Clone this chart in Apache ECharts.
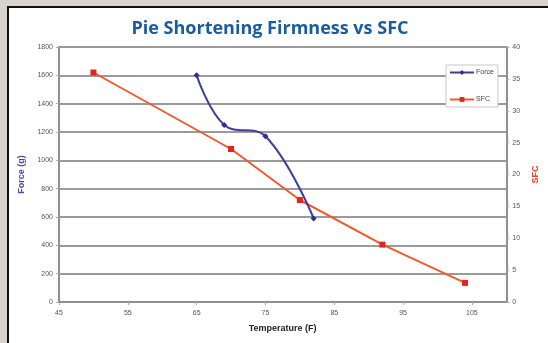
<!DOCTYPE html>
<html>
<head>
<meta charset="utf-8">
<style>
  html, body { margin: 0; padding: 0; background: #d9d3cd; }
  #chart { width: 548px; height: 343px; }
</style>
<script src="https://cdn.jsdelivr.net/npm/echarts@6/dist/echarts.min.js"></script>
</head>
<body>
<div id="chart"></div>
<script>
// Firmness (force) readings against temperature
const forceTemps = [65, 69, 75, 82];
const forceValues = [1600, 1250, 1170, 590];

// Solid fat content against temperature
const sfcTemps = [50, 70, 80, 92, 104];
const sfcValues = [36, 24, 16, 9, 3];

// Temperature tick labels
const tempTicks = [45, 55, 65, 75, 85, 95, 105];

const chart = echarts.init(document.getElementById('chart'), null, { renderer: 'canvas' });

const axisLineStyle = { color: '#8f8f8f', width: 2 };
const tickLabel = {
  fontSize: 7, color: '#555', fontFamily: 'Liberation Sans',
  formatter: (v) => String(v)
};

chart.setOption({
  backgroundColor: '#d9d3cd',
  animation: false,
  graphic: [{
    type: 'rect',
    z: -100,
    shape: { x: 8, y: 7, width: 560, height: 360 },
    style: { fill: '#ffffff', stroke: '#111111', lineWidth: 2 }
  }],
  title: {
    text: 'Pie Shortening Firmness vs SFC',
    left: 265,
    textAlign: 'center',
    top: 15,
    textStyle: { fontSize: 18, fontWeight: 'bold', color: '#1b5c9c', fontFamily: 'Open Sans' }
  },
  legend: {
    left: 446,
    top: 65,
    orient: 'vertical',
    itemWidth: 24,
    itemHeight: 6,
    itemGap: 20,
    padding: [4, 4, 4, 3],
    backgroundColor: '#ffffff',
    borderColor: '#c8c8c8',
    borderWidth: 1,
    textStyle: { fontSize: 7, color: '#444', fontFamily: 'Liberation Sans', padding: [0, 0, 0, -3] },
    data: ['Force', 'SFC']
  },
  grid: { left: 59, right: 31, top: 47, bottom: 41 },
  xAxis: {
    type: 'value',
    min: 45,
    max: 110,
    name: 'Temperature (F)',
    nameLocation: 'middle',
    nameGap: 22,
    nameTextStyle: { fontSize: 9, fontWeight: 'bold', color: '#222', fontFamily: 'Liberation Sans' },
    axisLine: { show: true, lineStyle: axisLineStyle },
    axisTick: { show: true, length: 3, customValues: tempTicks, lineStyle: { color: '#aaa' } },
    axisLabel: Object.assign({ customValues: tempTicks, margin: 8 }, tickLabel),
    splitLine: { show: false }
  },
  yAxis: [{
    type: 'value',
    min: 0,
    max: 1800,
    interval: 200,
    name: 'Force (g)',
    nameLocation: 'middle',
    nameGap: 33,
    nameRotate: 90,
    nameTextStyle: { fontSize: 9, fontWeight: 'bold', color: '#4b4ba6', fontFamily: 'Liberation Sans' },
    axisLine: { show: true, lineStyle: axisLineStyle },
    axisTick: { show: true, length: 3, lineStyle: { color: '#aaa' } },
    axisLabel: Object.assign({ margin: 6 }, tickLabel),
    splitLine: { show: true, lineStyle: { color: '#9a9a9a', width: 2 } }
  }, {
    type: 'value',
    min: 0,
    max: 40,
    interval: 5,
    name: 'SFC',
    nameLocation: 'middle',
    nameGap: 22,
    nameRotate: 90,
    nameTextStyle: { fontSize: 9, fontWeight: 'bold', color: '#e8452a', fontFamily: 'Liberation Sans' },
    axisLine: { show: true, lineStyle: axisLineStyle },
    axisTick: { show: true, length: 3, lineStyle: { color: '#aaa' } },
    axisLabel: Object.assign({ margin: 6 }, tickLabel),
    splitLine: { show: false }
  }],
  series: [{
    name: 'Force',
    type: 'line',
    yAxisIndex: 0,
    smooth: 0.4,
    data: forceTemps.map((t, i) => [t, forceValues[i]]),
    symbol: 'diamond',
    symbolSize: 6,
    itemStyle: { color: '#2f2f8f' },
    lineStyle: { color: '#3d3d9c', width: 2 },
    z: 3
  }, {
    name: 'SFC',
    type: 'line',
    yAxisIndex: 1,
    data: sfcTemps.map((t, i) => [t, sfcValues[i]]),
    symbol: 'rect',
    symbolSize: 6,
    itemStyle: { color: '#e5241c' },
    lineStyle: { color: '#f15a2e', width: 2 },
    z: 2
  }]
});
</script>
</body>
</html>
